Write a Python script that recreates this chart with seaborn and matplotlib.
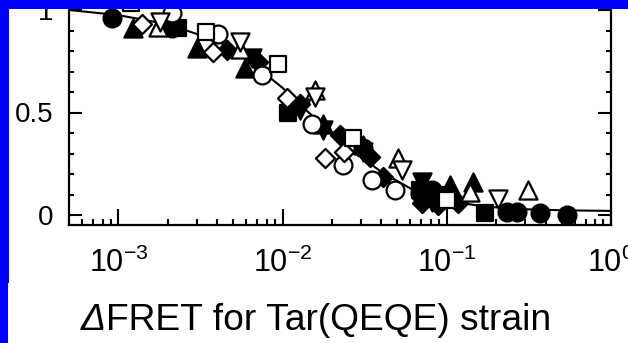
import numpy as np
import pandas as pd
import matplotlib
matplotlib.use("Agg")
import matplotlib.pyplot as plt
import seaborn as sns
from matplotlib.patches import Rectangle
from matplotlib.ticker import LogLocator, FixedLocator, MultipleLocator, FuncFormatter

# ---------------- data ----------------
fc_x = [9.2e-4, 2.12e-3, 3.10e-2, 6.89e-2, 8.14e-2, 0.233, 0.268, 0.370, 0.541]
fc_y = [0.961, 0.912, 0.327, 0.107, 0.122, 0.015, 0.015, 0.010, 0.000]

oc_x = [2.12e-3, 4.06e-3, 7.52e-3, 1.50e-2, 2.34e-2, 3.52e-2, 4.85e-2]
oc_y = [0.985, 0.883, 0.683, 0.444, 0.244, 0.171, 0.122]

ft_x = [1.23e-3, 3.03e-3, 5.93e-3, 1.75e-2, 3.10e-2, 0.105, 0.145]
ft_y = [0.912, 0.815, 0.717, 0.444, 0.341, 0.146, 0.161]

ot_x = [1.75e-3, 5.53e-3, 1.58e-2, 5.06e-2, 0.139, 0.313]
ot_y = [0.917, 0.810, 0.610, 0.278, 0.112, 0.122]

fs_x = [2.32e-3, 1.08e-2, 6.89e-2, 9.1e-2, 0.171]
fs_y = [0.912, 0.498, 0.122, 0.098, 0.010]

os_x = [1.2e-3, 3.43e-3, 9.41e-3, 2.69e-2, 0.100]
os_y = [1.034, 0.893, 0.737, 0.376, 0.073]

fd_x = [4.61e-3, 7.11e-3, 1.28e-2, 2.25e-2, 3.42e-2, 4.10e-2, 7.08e-2, 8.86e-2, 0.117]
fd_y = [0.805, 0.746, 0.541, 0.390, 0.283, 0.185, 0.059, 0.049, 0.059]

od_x = [1.40e-3, 3.79e-3, 1.07e-2, 1.82e-2, 2.37e-2]
od_y = [0.932, 0.795, 0.571, 0.278, 0.307]

fv_x = [6.54e-3, 1.28e-2, 1.75e-2, 3.10e-2, 7.08e-2, 8.14e-2]
fv_y = [0.766, 0.512, 0.415, 0.307, 0.161, 0.063]

ov_x = [1.80e-3, 5.53e-3, 1.58e-2, 5.36e-2, 0.206]
ov_y = [0.941, 0.844, 0.576, 0.220, 0.080]

# fitted curve
fit_x = [5.0e-4, 1.0e-3, 2.0e-3, 4.0e-3, 6.3e-3, 1.0e-2, 1.58e-2, 2.5e-2,
         4.0e-2, 6.3e-2, 1.0e-1, 1.58e-1, 2.5e-1, 4.0e-1, 6.3e-1, 1.0]
fit_y = [1.00, 0.975, 0.93, 0.85, 0.75, 0.62, 0.47, 0.33,
         0.21, 0.12, 0.07, 0.045, 0.03, 0.025, 0.022, 0.02]

y_ticks = [0, 0.5, 1]
title_delta = "Δ"
title_text = "FRET for Tar(QEQE) strain"

# ---------------- style ----------------
sns.set_style("ticks")
plt.rcParams["font.family"] = ["Liberation Sans", "DejaVu Sans"]
plt.rcParams["mathtext.fontset"] = "custom"
plt.rcParams["mathtext.rm"] = "Liberation Sans"
plt.rcParams["mathtext.it"] = "Liberation Sans:italic"
plt.rcParams["mathtext.bf"] = "Liberation Sans:bold"

W, H = 628, 343
fig = plt.figure(figsize=(W / 100, H / 100), dpi=100)
fig.patch.set_facecolor("white")
ax = fig.add_axes([69 / W, 1 - 225 / H, (611 - 69) / W, 225 / H])
ax.set_facecolor("white")

# fit line
sns.lineplot(x=fit_x, y=fit_y, ax=ax, color="black", linewidth=1.5,
             zorder=2, sort=False, legend=False)

series = [
    (fd_x, fd_y, "D", True, 95),
    (fv_x, fv_y, "v", True, 170),
    (ft_x, ft_y, "^", True, 170),
    (fs_x, fs_y, "s", True, 135),
    (fc_x, fc_y, "o", True, 165),
    (oc_x, oc_y, "o", False, 165),
    (od_x, od_y, "D", False, 95),
    (os_x, os_y, "s", False, 135),
    (ot_x, ot_y, "^", False, 170),
    (ov_x, ov_y, "v", False, 170),
]
for i, (xs, ys, m, filled, s) in enumerate(series):
    df = pd.DataFrame({"x": xs, "y": ys})
    sns.scatterplot(data=df, x="x", y="y", ax=ax, marker=m, s=s,
                    facecolor="black" if filled else "white",
                    edgecolor="black", linewidth=1.6, zorder=3 + i,
                    legend=False, clip_on=False)

ax.set_xscale("log")
ax.set_xlim(5.0e-4, 1.0)
ax.set_ylim((215 - 225) / 205, 215 / 205)
ax.xaxis.set_major_locator(LogLocator(base=10, numticks=10))
ax.xaxis.set_minor_locator(LogLocator(base=10, subs=np.arange(2, 10), numticks=20))
ax.yaxis.set_major_locator(FixedLocator(y_ticks))
ax.yaxis.set_minor_locator(MultipleLocator(0.1))
ax.yaxis.set_major_formatter(FuncFormatter(lambda v, p: f"{v:g}"))
ax.set_xlabel("")
ax.set_ylabel("")

for sp in ["left", "right", "bottom"]:
    ax.spines[sp].set_linewidth(1.6)
    ax.spines[sp].set_color("black")
ax.spines["top"].set_visible(False)

ax.tick_params(axis="y", which="both", direction="in", left=True, right=True,
               labelright=False, width=1.5, colors="black")
ax.tick_params(axis="y", which="major", length=9.5, pad=11, labelsize=20)
ax.tick_params(axis="y", which="minor", length=3.5)
ax.tick_params(axis="x", which="both", direction="in", bottom=True, top=False,
               width=1.5, colors="black")
ax.tick_params(axis="x", which="major", length=11.5, pad=16, labelsize=22)
ax.tick_params(axis="x", which="minor", length=4.5)

# caption: italic delta followed by upright text
base_y = 1 - 330 / H
split_x = 106 / W
fig.text(split_x, base_y, title_delta, ha="right", va="baseline",
         fontsize=26.8, style="italic", color="black")
fig.text(split_x, base_y, title_text, ha="left", va="baseline",
         fontsize=26.8, color="black")

# blue frame strips
fig.patches.append(Rectangle((0, 1 - 9 / H), 1, 9 / H, transform=fig.transFigure,
                             facecolor="#0000ff", edgecolor="none", zorder=50))
fig.patches.append(Rectangle((0, 1 - 283 / H), 9 / W, 283 / H, transform=fig.transFigure,
                             facecolor="#0000ff", edgecolor="none", zorder=50))
fig.patches.append(Rectangle((0, 0), 8 / W, 1 - 283 / H, transform=fig.transFigure,
                             facecolor="#0000ff", edgecolor="none", zorder=50))

fig.savefig("out.png", dpi=100, facecolor="white")
